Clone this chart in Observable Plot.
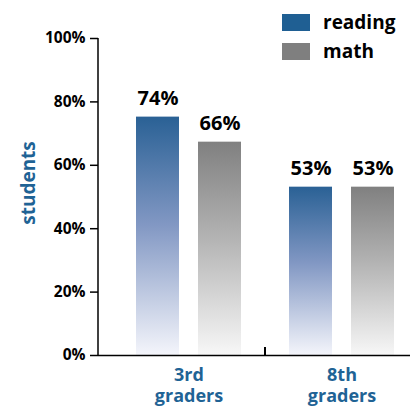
<!DOCTYPE html>
<html>
<head>
<meta charset="utf-8">
<script src="https://cdn.jsdelivr.net/npm/d3@7"></script>
<script src="https://cdn.jsdelivr.net/npm/@observablehq/plot@0.6"></script>
<style>
  html, body { margin: 0; padding: 0; background: #fff; }
  #chart { position: relative; width: 416px; height: 408px; font-family: "Open Sans", sans-serif; }
  #legend { position: absolute; left: 282px; top: 8px; }
  .item { display: flex; align-items: center; height: 29px; }
  .sw { width: 28px; height: 17px; margin-right: 13px; }
  .lab { font-size: 19px; font-weight: bold; color: #000; line-height: 1; }
</style>
</head>
<body>
<div id="chart"></div>
<script>
const groups = ["3rd graders", "8th graders"];
const groupLabels = ["3rd\ngraders", "8th\ngraders"];
const subjects = ["reading", "math"];
const subjectColors = ["#1f5f93", "#7f7f7f"];
// bar heights as drawn in the picture, and the printed value labels
const reading = [75.2, 53.1];
const math = [67.3, 53.1];
const readingLabels = ["74%", "53%"];
const mathLabels = ["66%", "53%"];
const yTicks = [0, 20, 40, 60, 80, 100];
const yLabel = "students";

const blue = "#1f6395";
const ns = "http://www.w3.org/2000/svg";
const readingData = groups.map((g, i) => ({group: g, value: reading[i], label: readingLabels[i]}));
const mathData = groups.map((g, i) => ({group: g, value: math[i], label: mathLabels[i]}));

const gradients = () => {
  const defs = document.createElementNS(ns, "defs");
  defs.innerHTML = `
    <linearGradient id="gReading" x1="0" y1="0" x2="0" y2="1">
      <stop offset="0" stop-color="#2a6195"/>
      <stop offset="0.45" stop-color="#8197c3"/>
      <stop offset="1" stop-color="#f4f5fb"/>
    </linearGradient>
    <linearGradient id="gMath" x1="0" y1="0" x2="0" y2="1">
      <stop offset="0" stop-color="#808080"/>
      <stop offset="0.45" stop-color="#b3b3b3"/>
      <stop offset="1" stop-color="#f7f7f7"/>
    </linearGradient>`;
  return defs;
};

// y-axis line at the left edge of the frame, plus the category divider tick
const axisLines = (index, scales, values, dims) => {
  const g = document.createElementNS(ns, "g");
  const y0 = scales.y(yTicks[0]);
  const y1 = scales.y(yTicks[yTicks.length - 1]);
  const xl = dims.marginLeft;
  const xd = scales.x(groups[1]);
  const add = (x1, ya, x2, yb, w) => {
    const l = document.createElementNS(ns, "line");
    l.setAttribute("x1", x1); l.setAttribute("y1", ya);
    l.setAttribute("x2", x2); l.setAttribute("y2", yb);
    l.setAttribute("stroke", "#000"); l.setAttribute("stroke-width", w);
    g.appendChild(l);
  };
  add(xl, y1, xl, y0, 1.5);
  add(xd, y0, xd, y0 - 8, 2);
  return g;
};

const chart = Plot.plot({
  width: 416,
  height: 408,
  marginLeft: 98,
  marginRight: 6,
  marginTop: 38,
  marginBottom: 53,
  style: {fontFamily: "'Open Sans', sans-serif", color: "#000", background: "#fff", overflow: "visible"},
  x: {domain: groups, range: [112, 418], padding: 0, axis: null},
  y: {domain: [0, 100], axis: null},
  marks: [
    gradients,
    Plot.barY(readingData, {x: "group", y: "value", fill: "url(#gReading)", insetLeft: 24, insetRight: 86}),
    Plot.barY(mathData, {x: "group", y: "value", fill: "url(#gMath)", insetLeft: 86, insetRight: 24}),
    Plot.text(readingData, {x: "group", y: "value", text: "label", dx: -31, dy: -12, lineAnchor: "bottom", fontSize: 20, fontWeight: "bold", fill: "#000"}),
    Plot.text(mathData, {x: "group", y: "value", text: "label", dx: 31, dy: -12, lineAnchor: "bottom", fontSize: 20, fontWeight: "bold", fill: "#000"}),
    Plot.axisY(yTicks, {tickSize: 8, tickPadding: 5, tickFormat: d => d + "%", fontSize: 15.5, fontWeight: "bold", stroke: "#000", strokeWidth: 1.5, fill: "#000", label: null}),
    Plot.ruleY([0], {stroke: "#000", strokeWidth: 1.5}),
    axisLines,
    Plot.text(groups, {x: d => d, text: (d, i) => groupLabels[i], frameAnchor: "bottom", lineAnchor: "top", dy: 11, lineHeight: 1.14, fontSize: 18, fontWeight: "bold", fill: blue}),
    Plot.text([yLabel], {frameAnchor: "left", textAnchor: "middle", rotate: -90, dx: -70, dy: -14, fontSize: 19, fontWeight: "bold", fill: blue})
  ]
});

const root = document.getElementById("chart");
root.appendChild(chart);
const legend = document.createElement("div");
legend.id = "legend";
subjects.forEach((s, i) => {
  const item = document.createElement("div");
  item.className = "item";
  const sw = document.createElement("div");
  sw.className = "sw";
  sw.style.background = subjectColors[i];
  const lab = document.createElement("span");
  lab.className = "lab";
  lab.textContent = s;
  item.appendChild(sw);
  item.appendChild(lab);
  legend.appendChild(item);
});
root.appendChild(legend);
</script>
</body>
</html>
